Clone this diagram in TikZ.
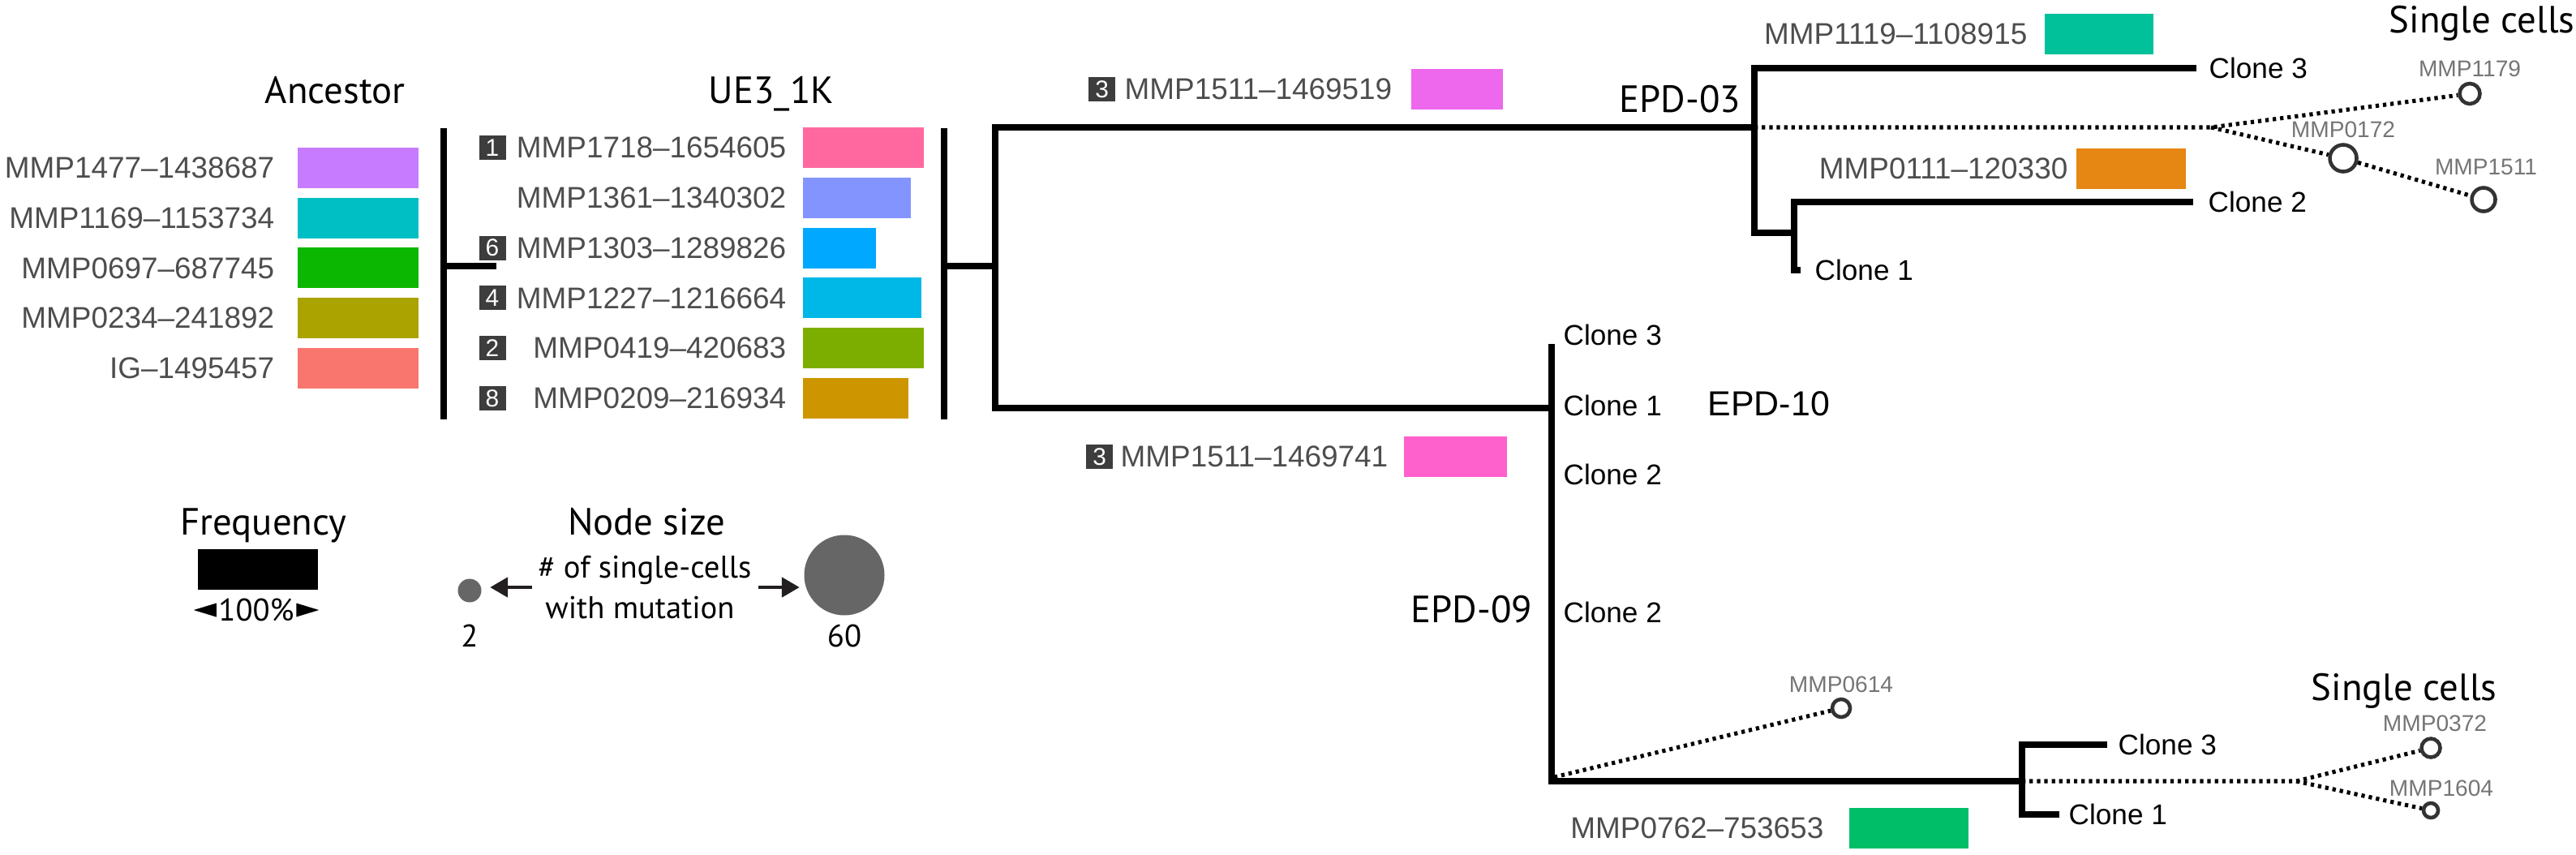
\documentclass[tikz,border=0pt]{standalone}
\usepackage{fontspec}
\setmainfont{Liberation Sans}
\newfontfamily\headfont{PT Sans}
\usetikzlibrary{arrows.meta, positioning, calc}
\definecolor{txtGrey}{HTML}{4D4D4D}
\definecolor{badgeGrey}{HTML}{3D3D3D}
\definecolor{cellGrey}{HTML}{666666}
\definecolor{cellTxt}{HTML}{757575}
\definecolor{cellLine}{HTML}{333333}
\definecolor{legArrow}{HTML}{231F20}
\definecolor{ancA}{HTML}{C77CFF}
\definecolor{ancB}{HTML}{00BFC4}
\definecolor{ancC}{HTML}{0CB702}
\definecolor{ancD}{HTML}{ABA300}
\definecolor{ancE}{HTML}{F8766D}
\definecolor{ueA}{HTML}{FF689F}
\definecolor{ueB}{HTML}{8494FF}
\definecolor{ueC}{HTML}{00A9FF}
\definecolor{ueD}{HTML}{00B8E7}
\definecolor{ueE}{HTML}{7CAE00}
\definecolor{ueF}{HTML}{CD9600}
\definecolor{mutA}{HTML}{ED68ED}
\definecolor{mutB}{HTML}{FF61CC}
\definecolor{mutC}{HTML}{00C19A}
\definecolor{mutD}{HTML}{E68613}
\definecolor{mutE}{HTML}{00BE67}
\tikzset{
  branch/.style={line width=2.2pt, line cap=rect, line join=miter},
  cellpath/.style={line width=1.45pt, dash pattern=on 1.2pt off 1.4pt},
  bar/.style={rectangle, inner sep=0pt, outer sep=0pt, minimum height=0.5cm, anchor=west},
  mutlabel/.style={font=\fontsize{10.5}{12}\selectfont, text=txtGrey, inner sep=0pt},
  badge/.style={rectangle, fill=badgeGrey, text=white, inner sep=0pt,
    minimum width=0.33cm, minimum height=0.30cm, font=\fontsize{8.5}{9}\selectfont},
  clonelabel/.style={font=\fontsize{10}{12}\selectfont, inner sep=0pt},
  cell/.style={circle, draw=cellLine, line width=1.3pt, fill=white, inner sep=0pt},
  celllabel/.style={font=\fontsize{8}{9}\selectfont, text=cellTxt, inner sep=0.5pt},
  head/.style={font=\headfont\fontsize{13.3}{15}\selectfont, inner sep=0pt, anchor=base},
  legtext/.style={font=\headfont\fontsize{11}{12}\selectfont, inner sep=0pt},
  legarr/.style={-{Triangle[length=2.2mm, width=2.4mm]}, line width=1.4pt, draw=legArrow}
}
\begin{document}
\begin{tikzpicture}
\useasboundingbox (0,0) rectangle (31.76,-10.53);

% ---------------- Ancestor column ----------------
\node[head] (ancHead) at (4.13,-1.27) {Ancestor};
\foreach \lbl/\col [count=\i] in {MMP1477--1438687/ancA, MMP1169--1153734/ancB,
    MMP0697--687745/ancC, MMP0234--241892/ancD, IG--1495457/ancE}{
  \node[bar, fill=\col, minimum width=1.49cm] (ancbar\i) at (3.67,{-2.07-0.617*(\i-1)}) {};
  \node[mutlabel, left=0.28cm of ancbar\i] (anc\i) {\lbl};
}

% ---------------- UE3_1K column ----------------
\node[head] (ueHead) at (9.51,-1.27) {UE3\_1K};
\foreach \lbl/\w/\col [count=\i] in {MMP1718--1654605/1.49/ueA, MMP1361--1340302/1.33/ueB,
    MMP1303--1289826/0.90/ueC, MMP1227--1216664/1.46/ueD, MMP0419--420683/1.49/ueE,
    MMP0209--216934/1.30/ueF}{
  \node[bar, fill=\col, minimum width=\w cm] (uebar\i) at (9.90,{-1.82-0.618*(\i-1)}) {};
  \node[mutlabel, left=0.20cm of uebar\i] (ue\i) {\lbl};
}
\foreach \num/\i in {1/1, 6/3, 4/4, 2/5, 8/6}
  \node[badge] (uebadge\i) at (6.07,{-1.82-0.618*(\i-1)}) {\num};

% brackets round the column
\coordinate (ueLtop) at (5.47,-1.62);
\coordinate (ueLbot) at (5.47,-5.13);
\coordinate (ueLstub) at (6.08,-3.28);
\coordinate (ueRtop) at (11.64,-1.62);
\coordinate (ueRbot) at (11.64,-5.13);
\coordinate (root) at (12.27,-3.28);
\draw[branch] (ueLtop) -- (ueLbot);
\draw[branch] (ueLtop |- ueLstub) -- (ueLstub);
\draw[branch] (ueRtop) -- (ueRbot);
\draw[branch] (ueRtop |- root) -- (root);

% ---------------- Tree ----------------
\coordinate (epd03) at (21.63,-1.57);
\coordinate (epd10) at (19.13,-5.03);
\draw[branch] (epd03) -| (root) |- (epd10);

\node[bar, fill=mutA, minimum width=1.13cm] (m519bar) at (17.40,-1.10) {};
\node[mutlabel, left=0.23cm of m519bar] (m519) {MMP1511--1469519};
\node[badge, left=0.10cm of m519] (m519badge) {3};
\node[bar, fill=mutB, minimum width=1.27cm] (m741bar) at (17.31,-5.63) {};
\node[mutlabel, left=0.19cm of m741bar] (m741) {MMP1511--1469741};
\node[badge, left=0.08cm of m741] (m741badge) {3};

% EPD-03
\node[head, anchor=base east] (epd03lbl) at (21.47,-1.38) {EPD-03};
\coordinate (tip03c3) at (27.04,-0.84);
\coordinate (sub03) at (22.12,-2.87);
\coordinate (tip03c2) at (27.00,-2.49);
\coordinate (tip03c1) at (22.16,-3.33);
\draw[branch] (tip03c3) -| (epd03) |- (sub03);
\draw[branch] (tip03c2) -| (sub03) |- (tip03c1);
\node[clonelabel, right=0.19cm of tip03c3] (c03c3) {Clone 3};
\node[clonelabel, right=0.22cm of tip03c2] (c03c2) {Clone 2};
\node[clonelabel, right=0.21cm of tip03c1] (c03c1) {Clone 1};

\node[bar, fill=mutC, minimum width=1.34cm] (m915bar) at (25.21,-0.42) {};
\node[mutlabel, left=0.21cm of m915bar] (m915) {MMP1119--1108915};
\node[bar, fill=mutD, minimum width=1.35cm] (m330bar) at (25.60,-2.08) {};
\node[mutlabel, left=0.10cm of m330bar] (m330) {MMP0111--120330};

\node[head] (cellsTop) at (30.60,-0.40) {Single cells};
\coordinate (split03) at (27.26,-1.57);
\node[cell, minimum size=0.25cm] (c1179) at (30.45,-1.155) {};
\node[cell, minimum size=0.33cm] (c0172) at (28.89,-1.95) {};
\node[cell, minimum size=0.29cm] (c1511) at (30.62,-2.46) {};
\node[celllabel, above=1pt of c1179] (l1179) {MMP1179};
\node[celllabel, above=1pt of c0172] (l0172) {MMP0172};
\node[celllabel, above=3pt of c1511, xshift=0.03cm] (l1511) {MMP1511};
\draw[cellpath] (epd03) -- (split03) -- (c1179);
\draw[cellpath] (split03) -- (c0172) -- (c1511);

% EPD-10 / EPD-09
\coordinate (top10) at (19.13,-4.28);
\coordinate (sub09) at (24.93,-9.63);
\coordinate (tip09c3) at (25.94,-9.18);
\coordinate (tip09c1) at (25.35,-10.04);
\draw[branch] (top10) |- (sub09);
\draw[branch] (tip09c3) -| (sub09) |- (tip09c1);
\node[clonelabel, anchor=base west] (c10c3) at (19.27,-4.25) {Clone 3};
\node[clonelabel, anchor=base west] (c10c1) at (19.27,-5.12) {Clone 1};
\node[clonelabel, anchor=base west] (c10c2) at (19.27,-5.97) {Clone 2};
\node[clonelabel, anchor=base west] (c09c2) at (19.27,-7.67) {Clone 2};
\node[clonelabel, anchor=base west, font=\fontsize{12.2}{14}\selectfont] (epd10lbl) at (21.05,-5.12) {EPD-10};
\node[head, anchor=base east] (epd09lbl) at (18.90,-7.67) {EPD-09};
\node[clonelabel, right=0.17cm of tip09c3] (c09c3) {Clone 3};
\node[clonelabel, right=0.15cm of tip09c1] (c09c1) {Clone 1};

\node[bar, fill=mutE, minimum width=1.47cm] (m653bar) at (22.80,-10.21) {};
\node[mutlabel, left=0.31cm of m653bar] (m653) {MMP0762--753653};

\coordinate (corner09) at (19.16,-9.58);
\coordinate (split09) at (28.31,-9.63);
\node[head] (cellsBot) at (29.64,-8.63) {Single cells};
\node[cell, minimum size=0.22cm] (c0614) at (22.70,-8.73) {};
\node[cell, minimum size=0.23cm] (c0372) at (29.97,-9.22) {};
\node[cell, minimum size=0.18cm] (c1604) at (29.97,-9.99) {};
\node[celllabel, above=1pt of c0614] (l0614) {MMP0614};
\node[celllabel, above=1pt of c0372, xshift=0.05cm] (l0372) {MMP0372};
\node[celllabel, above=1pt of c1604, xshift=0.13cm] (l1604) {MMP1604};
\draw[cellpath] (corner09) -- (c0614);
\draw[cellpath] (sub09) -- (split09) -- (c0372);
\draw[cellpath] (split09) -- (c1604);

% ---------------- Legend ----------------
\node[head] (freqHead) at (3.25,-6.59) {Frequency};
\node[bar, fill=black, minimum width=1.48cm] (freqbar) at (2.44,-7.02) {};
\node[legtext] (pct) at (3.16,-7.52) {100\%};
\fill (pct.west) ++(-0.02,0.085) -- ++(-0.28,-0.085) -- ++(0.28,-0.085) -- cycle;
\fill (pct.east) ++(0.02,0.085) -- ++(0.28,-0.085) -- ++(-0.28,-0.085) -- cycle;

\node[head] (sizeHead) at (7.97,-6.59) {Node size};
\node[legtext, anchor=base] (cellsTxt) at (7.95,-7.12) {\# of single-cells};
\node[legtext, anchor=base] (mutTxt) at (7.89,-7.62) {with mutation};
\node[circle, fill=cellGrey, minimum size=0.29cm, inner sep=0pt] (size2) at (5.79,-7.28) {};
\node[circle, fill=cellGrey, minimum size=0.99cm, inner sep=0pt] (size60) at (10.41,-7.09) {};
\coordinate (arrL) at (6.56,-7.24);
\coordinate (arrR) at (9.35,-7.24);
\draw[legarr, shorten >=0.1cm] (arrL) -- (arrL -| size2.east);
\draw[legarr, shorten >=0.05cm] (arrR) -- (arrR -| size60.west);
\node[legtext, anchor=base] (size2lbl) at (5.79,-7.97) {2};
\node[legtext, anchor=base] (size60lbl) at (10.41,-7.97) {60};

\end{tikzpicture}
\end{document}
